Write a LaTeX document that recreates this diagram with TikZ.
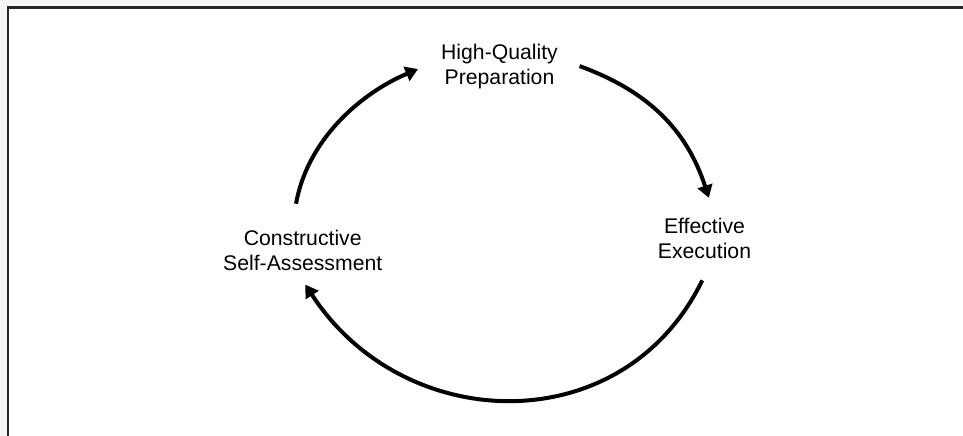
\documentclass[tikz,border=0pt]{standalone}
\usepackage{fontspec}
\setmainfont{Liberation Sans}
\usetikzlibrary{arrows.meta,positioning,calc}

\begin{document}
\begin{tikzpicture}[x=1pt,y=1pt,
  stage/.style={align=center,inner sep=3pt,font=\fontsize{21.2}{25}\selectfont},
  flow/.style={-{Triangle[length=12.5pt,width=15pt]},line width=4pt},
  panel/.style={line width=2.2pt,draw=black!85}
]
\useasboundingbox (0,0) rectangle (963,436);
% frame (top and left edges only)
\fill[black!4] (0,429) rectangle (963,436);
\fill[black!4] (0,0) rectangle (8,436);
\draw[panel] (8.3,0) -- (8.3,428.5) -- (963,428.5);
% stages
\node[stage] (hqp) at (499.5,369) {High-Quality\\Preparation};
\node[stage,on grid,below right=171pt and 205pt of hqp] (eex) {Effective\\Execution};
\node[stage,on grid,below left=183.3pt and 196.8pt of hqp] (csa) {Constructive\\Self-Assessment};
% cycle
\coordinate (o) at (503,208);
\coordinate (s1) at ($(o)+(172:209 and 174)$);
\coordinate (e1) at ($(o)+(114:209 and 174)$);
\coordinate (s2) at ($(o)+(68.5:209 and 174)$);
\coordinate (e2) at ($(o)+(10:209 and 174)$);
\coordinate (s3) at ($(o)+(-17.5:209 and 174)$);
\coordinate (e3) at ($(o)+(-161:209 and 174)$);
\draw[flow] (s1) to[out=80,in=203,looseness=0.9] (e1);
\draw[flow] (s2) to[out=-20,in=108] (e2);
\draw[flow] (s3) to[out=244,in=-57,looseness=1.16] (e3);
\end{tikzpicture}
\end{document}
